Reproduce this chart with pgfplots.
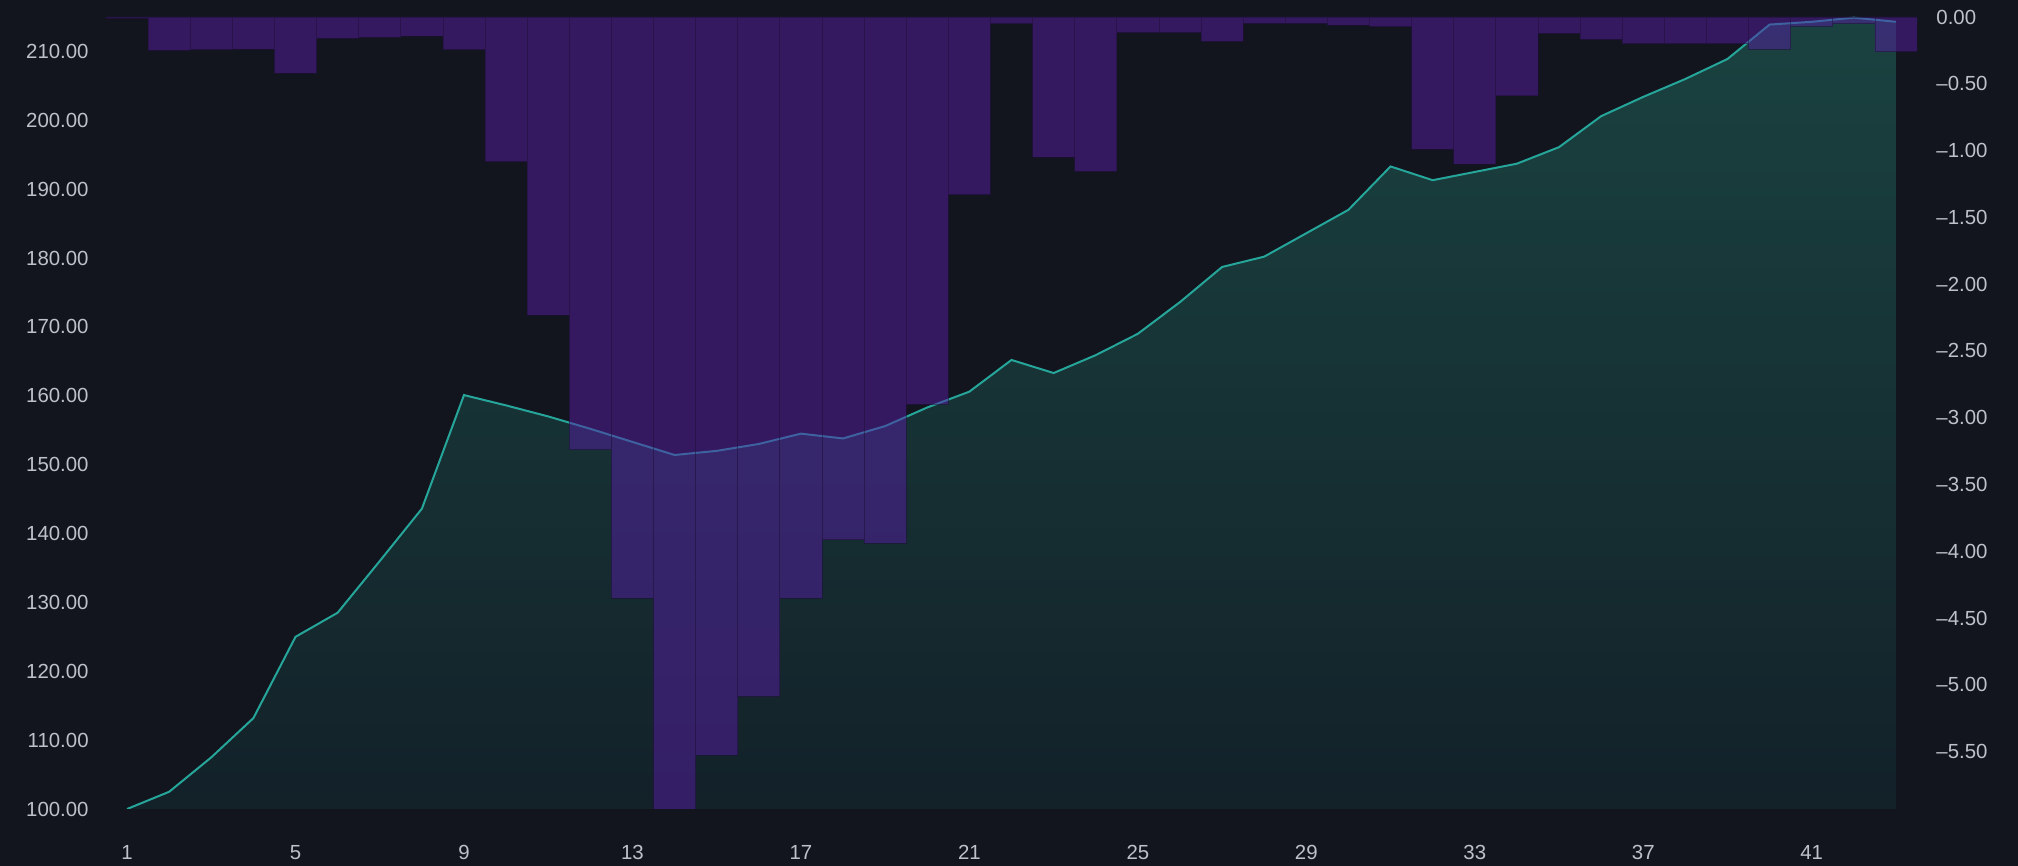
\documentclass[border=0pt]{standalone}
\usepackage{fontspec}
\setmainfont{Liberation Sans}
\usepackage{pgfplots}
\pgfplotsset{compat=1.18}
\definecolor{bg}{RGB}{18,21,30}
\definecolor{ticktext}{RGB}{190,193,200}
\definecolor{lineteal}{RGB}{38,166,154}
\definecolor{areatop}{RGB}{26,66,64}
\definecolor{areabot}{RGB}{19,33,41}
\definecolor{barpurple}{RGB}{86,30,164}
\definecolor{barsep}{RGB}{30,14,55}

\pgfplotstableread{
x y
1 100.0
2 102.5
3 107.5
4 113.2
5 125.0
6 128.5
7 136.0
8 143.6
9 160.1
10 158.6
11 157.0
12 155.2
13 153.3
14 151.4
15 152.0
16 153.0
17 154.5
18 153.8
19 155.6
20 158.3
21 160.6
22 165.2
23 163.3
24 165.9
25 169.0
26 173.6
27 178.7
28 180.2
29 183.6
30 187.0
31 193.3
32 191.3
33 192.5
34 193.7
35 196.1
36 200.6
37 203.4
38 206.0
39 208.9
40 213.9
41 214.3
42 214.9
43 214.3
}\equity

\pgfplotstableread{
x y
1 100.0
2 102.5
3 107.5
4 113.2
5 125.0
6 128.5
7 136.0
8 143.6
9 160.1
10 158.6
11 157.0
12 155.2
13 153.3
14 151.4
15 152.0
16 153.0
17 154.5
18 153.8
19 155.6
20 158.3
21 160.6
22 165.2
23 163.3
24 165.9
25 169.0
26 173.6
27 178.7
28 180.2
29 183.6
30 187.0
31 193.3
32 191.3
33 192.5
34 193.7
35 196.1
36 200.6
37 203.4
38 206.0
39 208.9
40 213.9
41 214.3
42 214.9
43 214.3
43 100.0
}\equityarea

\pgfplotstableread{
x d
1 -0.01
2 -0.25
3 -0.245
4 -0.24
5 -0.42
6 -0.16
7 -0.152
8 -0.142
9 -0.245
10 -1.083
11 -2.231
12 -3.24
13 -4.35
14 -5.93
15 -5.525
16 -5.087
17 -4.35
18 -3.915
19 -3.94
20 -2.90
21 -1.33
22 -0.05
23 -1.05
24 -1.155
25 -0.117
26 -0.117
27 -0.182
28 -0.047
29 -0.047
30 -0.06
31 -0.072
32 -0.99
33 -1.10
34 -0.59
35 -0.122
36 -0.167
37 -0.20
38 -0.20
39 -0.20
40 -0.24
41 -0.07
42 -0.05
43 -0.26
}\drawdown

\begin{document}
\begin{tikzpicture}
\fill[bg] (0,0) rectangle (1009pt,433pt);
\useasboundingbox (0,0) rectangle (1009pt,433pt);
\pgfplotsset{common/.style={
  at={(53pt,28.5pt)}, anchor=south west,
  scale only axis, width=905.5pt, height=396pt,
  xmin=0.5, xmax=43.5,
  axis line style={draw=none},
  major tick length=0pt, tick style={draw=none},
  ticklabel style={font=\fontsize{10.2}{12}\selectfont, text=ticktext},
  /pgf/number format/assume math mode=true,
}}
\begin{axis}[common,
  ymin=100, ymax=215,
  ytick={100,110,120,130,140,150,160,170,180,190,200,210},
  xtick={1,5,9,13,17,21,25,29,33,37,41},
  yticklabel style={anchor=east, inner sep=0pt, xshift=-8.5pt,
    /pgf/number format/.cd, fixed, fixed zerofill, precision=2},
  xticklabel style={anchor=base, inner sep=0pt, yshift=-25.25pt},
]
\addplot[draw=none, top color=areatop, bottom color=areabot] table[x=x,y=y] {\equityarea} -- cycle;
\addplot[lineteal, line width=1pt] table[x=x,y=y] {\equity};
\end{axis}
\begin{axis}[common,
  ymin=-5.93, ymax=0,
  ytick={0,-0.5,-1,-1.5,-2,-2.5,-3,-3.5,-4,-4.5,-5,-5.5},
  yticklabels={0.00,–0.50,–1.00,–1.50,–2.00,–2.50,–3.00,–3.50,–4.00,–4.50,–5.00,–5.50},
  xtick=\empty,
  yticklabel pos=right,
  yticklabel style={anchor=west, inner sep=0pt, xshift=9.5pt},
]
\addplot[ybar, bar width=1, fill=barpurple, fill opacity=0.5,
  draw=barsep, draw opacity=0.5, line width=0.4pt] table[x=x,y=d] {\drawdown};
\end{axis}
\end{tikzpicture}
\end{document}
